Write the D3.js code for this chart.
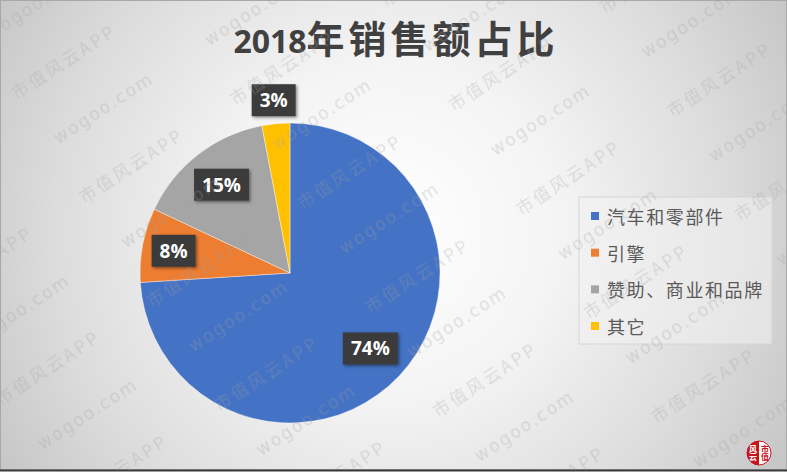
<!DOCTYPE html>
<html><head><meta charset="utf-8">
<script src="https://cdn.jsdelivr.net/npm/d3@7"></script>
<style>body{margin:0;background:#fff} svg{display:block}</style>
</head><body>
<svg id="c" width="787" height="473"></svg>
<script>
// ---- data ----
const categories = ["汽车和零部件", "引擎", "赞助、商业和品牌", "其它"];
const values = [74, 8, 15, 3];
const valueLabels = ["74%", "8%", "15%", "3%"];
const colors = ["#4472C4", "#ED7D31", "#A5A5A5", "#FFC000"];
const titleYear = "2018";
const titleRest = "年销售额占比";
const watermarkTexts = ["市值风云APP", "wogoo.com"];
const logoTexts = ["风云", "市值"];

// ---- layout ----
const W = 787, H = 473;
const cx = 290, cy = 273, R = 150;
const labelRadius = [0.735, 0.79, 0.745, 1.157];

const svg = d3.select("#c");
const defs = svg.append("defs");

// background gradient
const g = defs.append("radialGradient").attr("id", "bg")
  .attr("gradientUnits", "userSpaceOnUse")
  .attr("cx", 390).attr("cy", 230).attr("r", 480);
[[0, "#ffffff"], [0.35, "#f4f4f4"], [0.7, "#dcdcdc"], [1, "#c2c2c2"]]
  .forEach(([o, c]) => g.append("stop").attr("offset", o).attr("stop-color", c));

const sh = defs.append("filter").attr("id", "sh").attr("x", "-30%").attr("y", "-30%").attr("width", "160%").attr("height", "160%");
sh.append("feDropShadow").attr("dx", 1.5).attr("dy", 1.5).attr("stdDeviation", 1.5)
  .attr("flood-color", "#000").attr("flood-opacity", 0.45);

svg.append("rect").attr("width", W).attr("height", 470).attr("fill", "url(#bg)");
svg.append("rect").attr("x", 0.5).attr("y", 0.5).attr("width", W - 1).attr("height", 469)
  .attr("fill", "none").attr("stroke", "#a8a8a8");
svg.append("line").attr("x1", 0).attr("x2", W).attr("y1", 470.5).attr("y2", 470.5)
  .attr("stroke", "#3a3a3a").attr("stroke-width", 2);

// title
const title = svg.append("text")
  .attr("x", 396).attr("y", 53)
  .attr("text-anchor", "middle")
  .attr("fill", "#404040")
  .attr("font-weight", "bold");
title.append("tspan").text(titleYear)
  .attr("font-family", "'Open Sans', sans-serif").attr("font-size", 32);
title.append("tspan").text(titleRest)
  .attr("font-family", "'Noto Sans CJK SC', sans-serif").attr("font-size", 38)
  .attr("letter-spacing", 4);

// pie
const pie = d3.pie().sort(null).value(d => d);
const arcs = pie(values);
const arc = d3.arc().innerRadius(0).outerRadius(R);
const pg = svg.append("g").attr("transform", `translate(${cx},${cy})`);
pg.selectAll("path").data(arcs).join("path")
  .attr("d", arc)
  .attr("fill", (d, i) => colors[i])
  .attr("stroke", "rgba(255,255,255,0.5)")
  .attr("stroke-width", 0.8);

// data labels
const lg = pg.selectAll("g.lab").data(arcs).join("g").attr("class", "lab")
  .attr("transform", (d, i) => {
    const a = (d.startAngle + d.endAngle) / 2;
    const r = R * labelRadius[i];
    return `translate(${r * Math.sin(a)},${-r * Math.cos(a)})`;
  });
lg.each(function (d, i) {
  const s = d3.select(this);
  const rect = s.append("rect").attr("fill", "#3b3b3b").attr("filter", "url(#sh)");
  const t = s.append("text").text(valueLabels[i])
    .attr("text-anchor", "middle").attr("dominant-baseline", "central")
    .attr("font-family", "'Open Sans', sans-serif").attr("font-weight", "bold")
    .attr("font-size", 19).attr("fill", "#ffffff");
  const w = t.node().getComputedTextLength() + 16;
  const h = 32;
  rect.attr("x", -w / 2).attr("y", -h / 2).attr("width", w).attr("height", h);
});

// legend
const leg = svg.append("g");
leg.append("rect").attr("x", 579).attr("y", 197).attr("width", 193).attr("height", 147)
  .attr("fill", "#f2f2f2").attr("fill-opacity", 0.55).attr("stroke", "#d6d6d6");
const legY = d3.scalePoint().domain(categories).range([216, 326]);
const li = leg.selectAll("g.li").data(categories).join("g").attr("class", "li")
  .attr("transform", d => `translate(591,${legY(d)})`);
li.append("rect").attr("x", 0).attr("y", -4).attr("width", 8).attr("height", 8)
  .attr("fill", (d, i) => colors[i]);
li.append("text").text(d => d).attr("x", 16).attr("y", 0)
  .attr("dominant-baseline", "central")
  .attr("font-family", "'Noto Sans CJK SC', sans-serif").attr("font-size", 18)
  .attr("letter-spacing", 1.6).attr("fill", "#595959");

// watermark pattern
const pat = defs.append("pattern").attr("id", "wm")
  .attr("patternUnits", "userSpaceOnUse")
  .attr("width", 180).attr("height", 124)
  .attr("x", -70).attr("y", 54)
  .attr("patternTransform", "rotate(-33)");
pat.append("text").text(watermarkTexts[0]).attr("x", 90).attr("y", 31)
  .attr("text-anchor", "middle").attr("dominant-baseline", "central")
  .attr("font-family", "'Noto Sans CJK SC', sans-serif").attr("font-size", 17)
  .attr("letter-spacing", 3).attr("fill", "#a0a0a0");
pat.append("text").text(watermarkTexts[1]).attr("x", 98).attr("y", 93)
  .attr("text-anchor", "middle").attr("dominant-baseline", "central")
  .attr("font-family", "'DejaVu Sans', sans-serif").attr("font-size", 17)
  .attr("letter-spacing", 2).attr("fill", "#a0a0a0");
svg.append("rect").attr("width", W).attr("height", 470)
  .attr("fill", "url(#wm)").attr("opacity", 0.3).attr("pointer-events", "none");

// logo
const lo = svg.append("g").attr("transform", "translate(759,453)");
defs.append("clipPath").attr("id", "lc").append("circle").attr("r", 12);
const lc = lo.append("g").attr("clip-path", "url(#lc)");
lc.append("rect").attr("x", -12).attr("y", -12).attr("width", 12).attr("height", 24).attr("fill", "#c4161c");
lc.append("rect").attr("x", 0).attr("y", -12).attr("width", 12).attr("height", 24).attr("fill", "#ffffff");
lo.append("circle").attr("r", 12).attr("fill", "none").attr("stroke", "#c4161c").attr("stroke-width", 1);
[[-6, "#fff"], [6, "#c4161c"]].forEach(([x, c], i) => {
  lo.append("text").text(logoTexts[i]).attr("x", x).attr("y", 0)
    .attr("text-anchor", "middle").attr("dominant-baseline", "central")
    .attr("writing-mode", "tb")
    .attr("font-family", "'Noto Sans CJK SC', sans-serif").attr("font-size", 8)
    .attr("font-weight", "bold").attr("fill", c);
});
</script>
</body></html>
